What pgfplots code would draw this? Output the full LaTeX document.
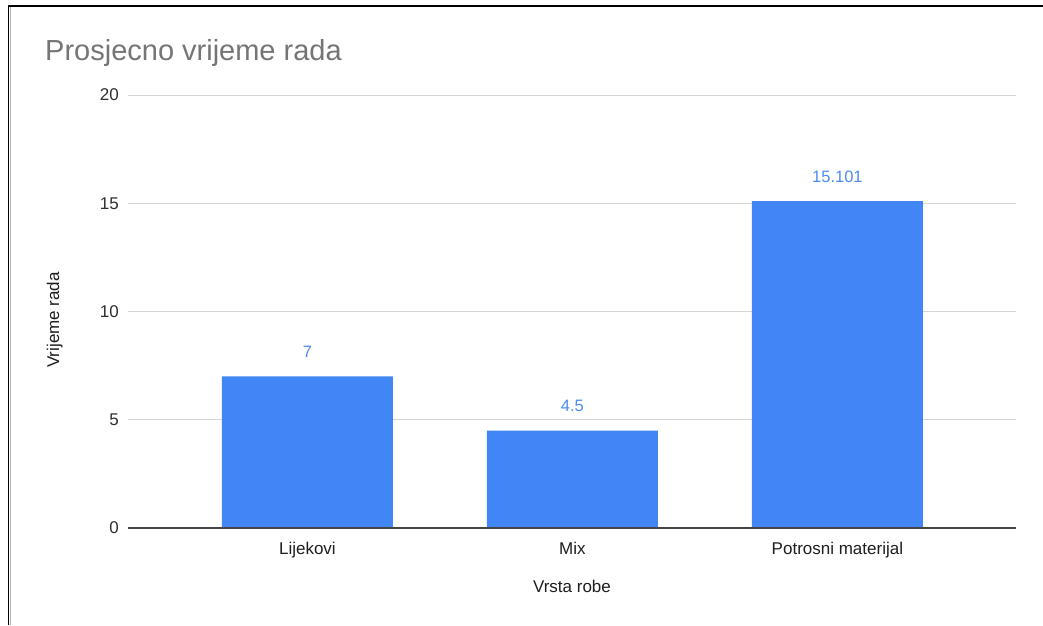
\documentclass[border=0pt]{standalone}
\usepackage{pgfplots}
\pgfplotsset{compat=1.18}
\usepackage{fontspec}
\setmainfont{Liberation Sans}

\definecolor{barblue}{HTML}{4285F4}
\definecolor{labelblue}{HTML}{4C8BF5}
\definecolor{titlegrey}{HTML}{757575}
\definecolor{gridgrey}{HTML}{D6D6D6}
\definecolor{basegrey}{HTML}{444444}
\definecolor{ticktext}{HTML}{2E2E2E}
\definecolor{labeltext}{HTML}{1E1E1E}

\begin{document}
\begin{tikzpicture}[x=1pt,y=1pt]
\useasboundingbox (0,0) rectangle (1043,625);
% frame on the top and left edges
\fill[white] (0,0) rectangle (1043,625);
\draw[black, line width=2pt] (8,619) -- (1043,619);
\draw[black, line width=1.4pt] (8.5,619) -- (8.5,0);
\draw[gray!60, line width=1.2pt] (10.6,618) -- (10.6,0);

% chart title
\node[anchor=base west, inner sep=0pt, font=\fontsize{29}{34}\selectfont, text=titlegrey]
  at (45,564) {Prosjecno vrijeme rada};

\begin{axis}[
  scale only axis,
  width=888pt, height=433pt,
  at={(128pt,97pt)}, anchor=south west,
  ybar, bar width=171pt,
  xmin=-0.677, xmax=2.674,
  ymin=0, ymax=20,
  ytick={0,5,10,15,20},
  xtick={0,1,2},
  xticklabels={Lijekovi, Mix, Potrosni materijal},
  axis line style={draw=none},
  tick style={draw=none},
  ymajorgrids,
  grid style={color=gridgrey, line width=0.9pt},
  /pgf/number format/assume math mode=true,
  /pgf/number format/precision=3,
  yticklabel style={font=\fontsize{17}{20}\selectfont, text=ticktext, inner sep=0pt, anchor=east, xshift=-9pt},
  xticklabel style={font=\fontsize{17}{20}\selectfont, text=labeltext, inner sep=0pt, anchor=north, yshift=-10pt},
  xlabel={Vrsta robe},
  ylabel={Vrijeme rada},
  every axis x label/.style={at={(axis description cs:0.5,0)}, anchor=north, inner sep=0pt, yshift=-52pt, font=\fontsize{17}{20}\selectfont, text=labeltext},
  every axis y label/.style={at={(axis description cs:-0.0777,0.4804)}, rotate=90, anchor=base, inner sep=0pt, font=\fontsize{17}{20}\selectfont, text=labeltext},
  nodes near coords,
  every node near coord/.append style={font=\fontsize{16.5}{20}\selectfont, text=labelblue, anchor=base, yshift=19pt, inner sep=0pt},
]
\addplot[fill=barblue, draw=none] coordinates {(0,7) (1,4.5) (2,15.101)};
\draw[basegrey, line width=1.1pt] (axis cs:-0.677,0) -- (axis cs:2.674,0);
\end{axis}
\end{tikzpicture}
\end{document}
